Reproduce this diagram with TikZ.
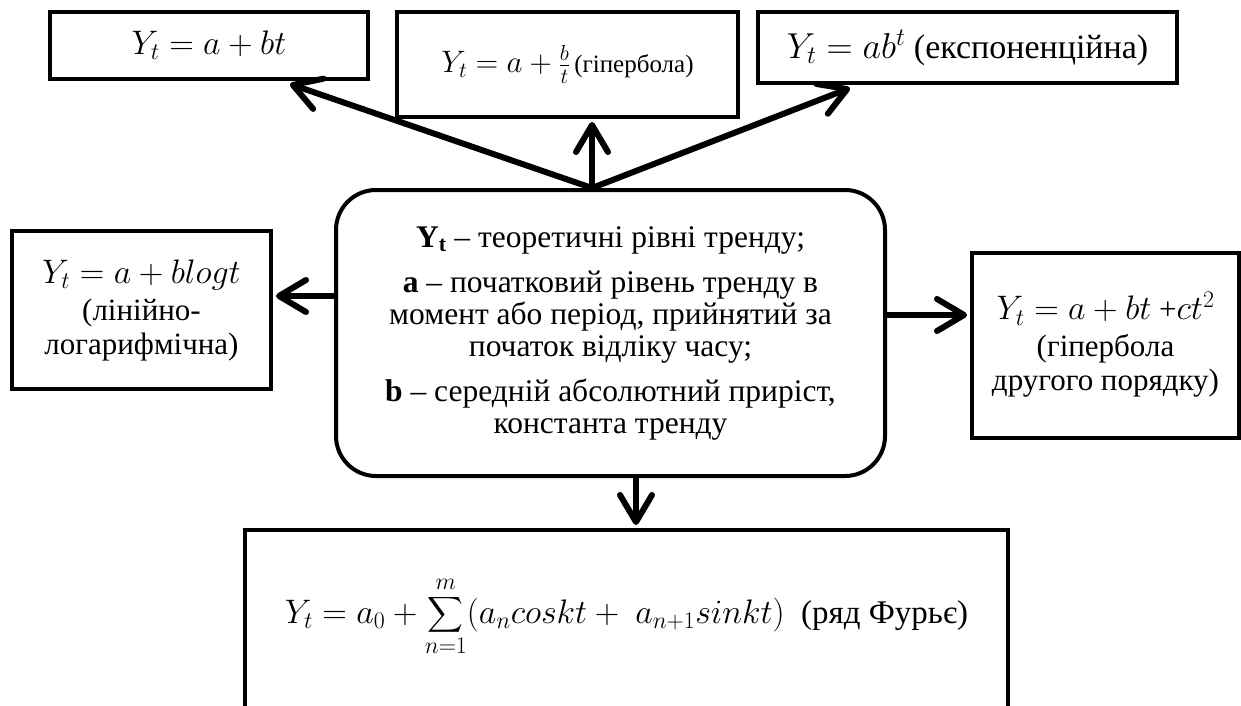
\RequirePackage{fix-cm}
\documentclass[tikz,border=0pt]{standalone}
\usepackage{amsmath}
\usepackage{fontspec}
\setmainfont{Liberation Serif}
\usetikzlibrary{arrows.meta,calc}

% formula set at its own size
\newcommand{\fml}[2]{{\fontsize{#1}{#1}\selectfont$#2$}}

\tikzset{
  frame/.style={draw=black, line width=4pt, rectangle, inner sep=0pt,
    align=center, font=\fontsize{31}{34}\selectfont},
  arr/.style={line width=6pt, line cap=round,
    -{Straight Barb[length=27pt,width=32pt,round]}},
}

\begin{document}
\begin{tikzpicture}[x=1pt,y=-1pt]
\useasboundingbox[fill=white] (0,0) rectangle (1241,706);
\clip (0,0) rectangle (1241,706);

% trend models
\node[frame, minimum width=318pt, minimum height=67pt] (lin) at (209,45.5)
  {\fml{34}{Y_t = a + bt}};
\node[frame, minimum width=341pt, minimum height=105pt,
  font=\fontsize{25}{25}\selectfont] (hyp) at (567.5,64.5)
  {\fml{31}{Y_t = a + \frac{b}{t}}\,(гіпербола)};
\node[frame, minimum width=419pt, minimum height=71pt,
  font=\fontsize{34}{34}\selectfont] (expo) at (967.5,47.5)
  {\fml{36}{Y_t = ab^t} (експоненційна)};
\node[frame, minimum width=259pt, minimum height=158pt] (logl) at (141.5,310)
  {\fml{34}{Y_t = a + blogt}\\[3pt](лінійно-\\логарифмічна)};
\node[frame, minimum width=267pt, minimum height=185pt] (quad) at (1105.5,345)
  {\fml{34}{Y_t = a + bt}\ +\fml{34}{ct^2}\\[3pt](гіпербола\\другого порядку)};

% central definitions
\node[frame, rounded corners=40pt, minimum width=549pt, minimum height=286pt,
  font=\fontsize{31.5}{32}\selectfont] (defs) at (610.5,333)
  {\textbf{Y\textsubscript{t}} – теоретичні рівні тренду;\\[13pt]
   \textbf{a} – початковий рівень тренду в\\
   момент або період, прийнятий за\\
   початок відліку часу;\\[13pt]
   \textbf{b} – середній абсолютний приріст,\\
   константа тренду};

% Fourier series
\node[frame, anchor=north, minimum width=763pt, text height=93pt, text depth=139pt,
  font=\fontsize{33}{33}\selectfont] (fourier) at (626.5,528)
  {\fml{34}{\displaystyle Y_t = a_0 + \sum_{n=1}^{m}(a_n coskt +\ a_{n+1} sinkt)}\ \ (ряд Фурьє)};

% connectors
\coordinate (apex) at ($(defs.north)+(-18.5,0)$);
\coordinate (lfrom) at ($(defs.west)+(0,-37)$);
\coordinate (rfrom) at ($(defs.east)+(0,-18)$);
\coordinate (dfrom) at ($(defs.south)+(25.5,0)$);

\draw[arr] (apex) -- ($(lin.south)+(81,3)$);
\draw[arr] (apex) -- ($(apex |- hyp.south)+(0,3)$);
\draw[arr] (apex) -- ($(expo.south)+(-117.5,3)$);
\draw[arr] (lfrom) -- ($(lfrom -| logl.east)+(3,0)$);
\draw[arr] (rfrom) -- ($(rfrom -| quad.west)+(-3,0)$);
\draw[arr] (dfrom) -- ($(dfrom |- fourier.north)+(0,-3)$);
\end{tikzpicture}
\end{document}
